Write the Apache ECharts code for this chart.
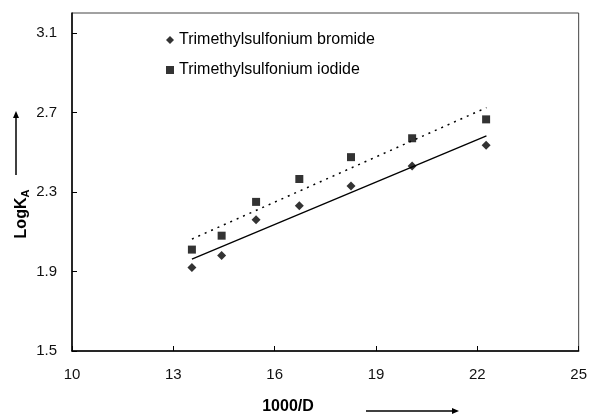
<!DOCTYPE html>
<html>
<head>
<meta charset="utf-8">
<script src="https://cdn.jsdelivr.net/npm/echarts@6/dist/echarts.min.js"></script>
<style>
  html, body { margin: 0; padding: 0; background: #fff; }
  #chart { width: 590px; height: 414px; }
</style>
</head>
<body>
<div id="chart"></div>
<script>
// values
const xValues = [13.55, 14.43, 15.45, 16.73, 18.26, 20.07, 22.26]
const bromide = [1.92, 1.98, 2.16, 2.23, 2.33, 2.43, 2.535]
const iodide = [2.01, 2.08, 2.25, 2.365, 2.475, 2.57, 2.665]
// trend lines (end points)
const bromideFitX = [13.55, 22.27]
const bromideFitY = [1.962, 2.582]
const iodideFitX = [13.55, 22.27]
const iodideFitY = [2.063, 2.724]
const xTicks = [10, 13, 16, 19, 22, 25]
const yTicks = [1.5, 1.9, 2.3, 2.7, 3.1]

const pairs = (xs, ys) => xs.map((x, i) => [x, ys[i]])

const chart = echarts.init(document.getElementById('chart'))
const font = 'Liberation Sans, Arial, sans-serif'

chart.setOption({
  animation: false,
  textStyle: { fontFamily: font },
  grid: {
    left: 72, right: 9, top: 13, bottom: 63,
    show: true, borderColor: '#444', borderWidth: 1
  },
  legend: {
    orient: 'vertical',
    left: 161, top: 27,
    itemWidth: 8, itemHeight: 8,
    itemGap: 14,
    textStyle: { fontSize: 16, color: '#000', fontFamily: font },
    data: [
      { name: 'Trimethylsulfonium bromide', icon: 'diamond' },
      { name: 'Trimethylsulfonium iodide', icon: 'rect' }
    ]
  },
  xAxis: {
    type: 'value', min: 10, max: 25,
    axisLine: { lineStyle: { color: '#000', width: 1.5 } },
    axisTick: { inside: true, length: 5, customValues: xTicks, lineStyle: { color: '#000' } },
    axisLabel: { customValues: xTicks, fontSize: 15, color: '#111', margin: 16 },
    splitLine: { show: false }
  },
  yAxis: {
    type: 'value', min: 1.5, max: 3.2,
    axisLine: { show: true, lineStyle: { color: '#000', width: 1.5 } },
    axisTick: { show: true, inside: true, length: 5, customValues: yTicks, lineStyle: { color: '#000' } },
    axisLabel: {
      customValues: yTicks, fontSize: 15, color: '#111', margin: 15,
      formatter: v => v.toFixed(1)
    },
    splitLine: { show: false }
  },
  graphic: [
    {
      type: 'text', x: 22, y: 214, rotation: Math.PI / 2,
      style: {
        text: '{b|LogK}{s|A}',
        textAlign: 'center', textVerticalAlign: 'middle',
        rich: {
          b: { fontSize: 16, fontWeight: 'bold', fontFamily: font, fill: '#000' },
          s: { fontSize: 11, fontWeight: 'bold', fontFamily: font, fill: '#000', verticalAlign: 'bottom', padding: [7, 0, 0, 0] }
        }
      }
    },
    {
      type: 'text', x: 288, y: 407,
      style: {
        text: '1000/D', fontSize: 16, fontWeight: 'bold', fontFamily: font, fill: '#000',
        textAlign: 'center', textVerticalAlign: 'middle'
      }
    },
    { type: 'line', shape: { x1: 16, y1: 175, x2: 16, y2: 117 }, style: { stroke: '#000', lineWidth: 1.5 } },
    { type: 'polygon', shape: { points: [[13, 118], [19, 118], [16, 111]] }, style: { fill: '#000' } },
    { type: 'line', shape: { x1: 366, y1: 411, x2: 453, y2: 411 }, style: { stroke: '#000', lineWidth: 1.5 } },
    { type: 'polygon', shape: { points: [[452, 408], [452, 414], [459, 411]] }, style: { fill: '#000' } }
  ],
  series: [
    {
      name: 'bromide fit', type: 'line', data: pairs(bromideFitX, bromideFitY),
      showSymbol: false, lineStyle: { color: '#000', width: 1.3 }, silent: true
    },
    {
      name: 'iodide fit', type: 'line', data: pairs(iodideFitX, iodideFitY),
      showSymbol: false, lineStyle: { color: '#000', width: 1.5, type: [2, 5] }, silent: true
    },
    {
      name: 'Trimethylsulfonium bromide', type: 'scatter', data: pairs(xValues, bromide),
      symbol: 'diamond', symbolSize: 9, itemStyle: { color: '#000' }
    },
    {
      name: 'Trimethylsulfonium iodide', type: 'scatter', data: pairs(xValues, iodide),
      symbol: 'rect', symbolSize: 8, itemStyle: { color: '#000' }
    }
  ]
})
</script>
</body>
</html>
